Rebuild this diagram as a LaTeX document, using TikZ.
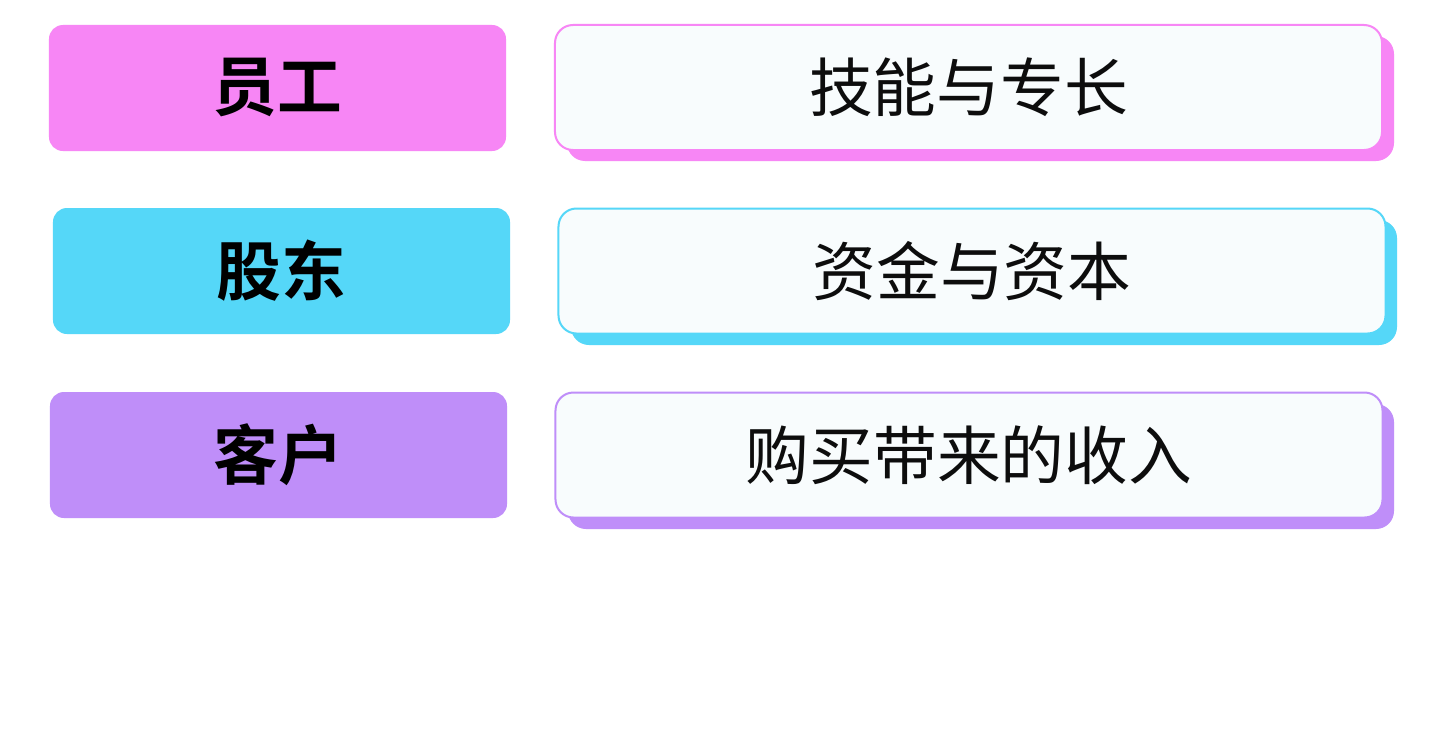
\documentclass[tikz,border=0pt]{standalone}
\usepackage{fontspec}
\newfontfamily\cjk{Noto Sans CJK SC}
\newfontfamily\cjkb{Noto Sans CJK SC Bold}
\definecolor{cpink}{HTML}{F786F5}
\definecolor{ccyan}{HTML}{55D7F8}
\definecolor{cpurp}{HTML}{BF8EF9}
\definecolor{cwhite}{HTML}{F8FCFD}
\tikzset{
  role/.style={fill=#1, draw=none, rounded corners=7bp, minimum width=228.5bp, minimum height=63bp, inner sep=0pt, font=\cjkb\fontsize{32.5}{32.5}\selectfont, text=black},
  contrib/.style={fill=cwhite, draw=#1, line width=1bp, rounded corners=9bp, minimum width=413.5bp, minimum height=62.5bp, inner sep=0pt, font=\cjk\fontsize{32}{32}\selectfont, text=black!95}
}
\begin{document}
\begin{tikzpicture}[x=0.5bp,y=-0.5bp]
\useasboundingbox (0,0) rectangle (1440,736);
\fill[white] (0,0) rectangle (1440,736);
% row 1
\node[role=cpink] (r1) at (277.5,88) {员工};
\fill[cpink, rounded corners=9bp] (567,36) rectangle (1394,161);
\node[contrib=cpink] (c1) at (968.5,87.5) {技能与专长};
% row 2
\node[role=ccyan] (r2) at (281.5,271) {股东};
\fill[ccyan, rounded corners=9bp] (571,220) rectangle (1397,345);
\node[contrib=ccyan] (c2) at (972,271) {资金与资本};
% row 3
\node[role=cpurp] (r3) at (278.5,455) {客户};
\fill[cpurp, rounded corners=9bp] (568,404) rectangle (1394,529);
\node[contrib=cpurp] (c3) at (969,455) {购买带来的收入};
\end{tikzpicture}
\end{document}
